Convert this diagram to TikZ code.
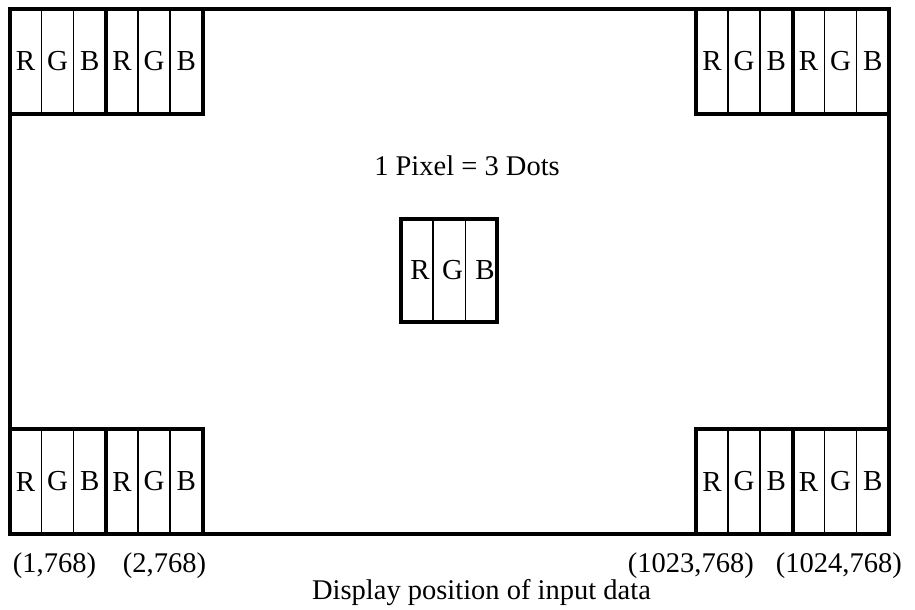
\documentclass[tikz,border=0pt]{standalone}
\usepackage{fontspec}
\setmainfont{Liberation Serif}
\newcommand{\rgbpix}[4]{% name, left x, top y, height
  \draw[thin line] (#2+32,#3) -- (#2+32,#3+#4);
  \draw[thin line] (#2+64,#3) -- (#2+64,#3+#4);
  \draw[thick line] (#2,#3) rectangle (#2+96.5,#3+#4);
  \node[dot] (#1r) at (#2+16,#3+#4/2) {R};
  \node[dot] (#1g) at (#2+48,#3+#4/2) {G};
  \node[dot] (#1b) at (#2+80.25,#3+#4/2) {B};
}
\begin{document}
\begin{tikzpicture}[x=1pt,y=-1pt,
  thick line/.style={line width=4pt, line join=miter},
  thin line/.style={line width=1.6pt},
  dot/.style={inner sep=0pt, font=\fontsize{29}{34}\selectfont},
  lbl/.style={inner sep=0pt, font=\fontsize{28.5}{34}\selectfont}]
\useasboundingbox (0,0) rectangle (915,610);
% outer frame
\draw[thick line] (9.5,9) rectangle (889,534);
% corner pixels
\rgbpix{tla}{9.5}{9}{105}
\rgbpix{tlb}{106}{9}{105}
\rgbpix{tra}{696}{9}{105}
\rgbpix{trb}{792.5}{9}{105}
\rgbpix{bla}{9.5}{429}{105}
\rgbpix{blb}{106}{429}{105}
\rgbpix{bra}{696}{429}{105}
\rgbpix{brb}{792.5}{429}{105}
% centre pixel
\draw[thin line] (433,219) -- (433,322);
\draw[thin line] (465.5,219) -- (465.5,322);
\draw[thick line] (401,219) rectangle (497,322);
\node[dot] (cr) at (420,270.5) {R};
\node[dot] (cg) at (452.5,270.5) {G};
\node[dot] (cb) at (485,270.5) {B};
% texts
\node[lbl, anchor=base] (title) at (467,175) {1 Pixel = 3 Dots};
\node[lbl, anchor=base] (p1) at (54.5,572) {(1,768)};
\node[lbl, anchor=base] (p2) at (164.5,572) {(2,768)};
\node[lbl, anchor=base east] (p3) at (754,572) {(1023,768)};
\node[lbl, anchor=base east] (p4) at (902,572) {(1024,768)};
\node[lbl, anchor=base] (cap) at (481.5,599) {Display position of input data};
\end{tikzpicture}
\end{document}
